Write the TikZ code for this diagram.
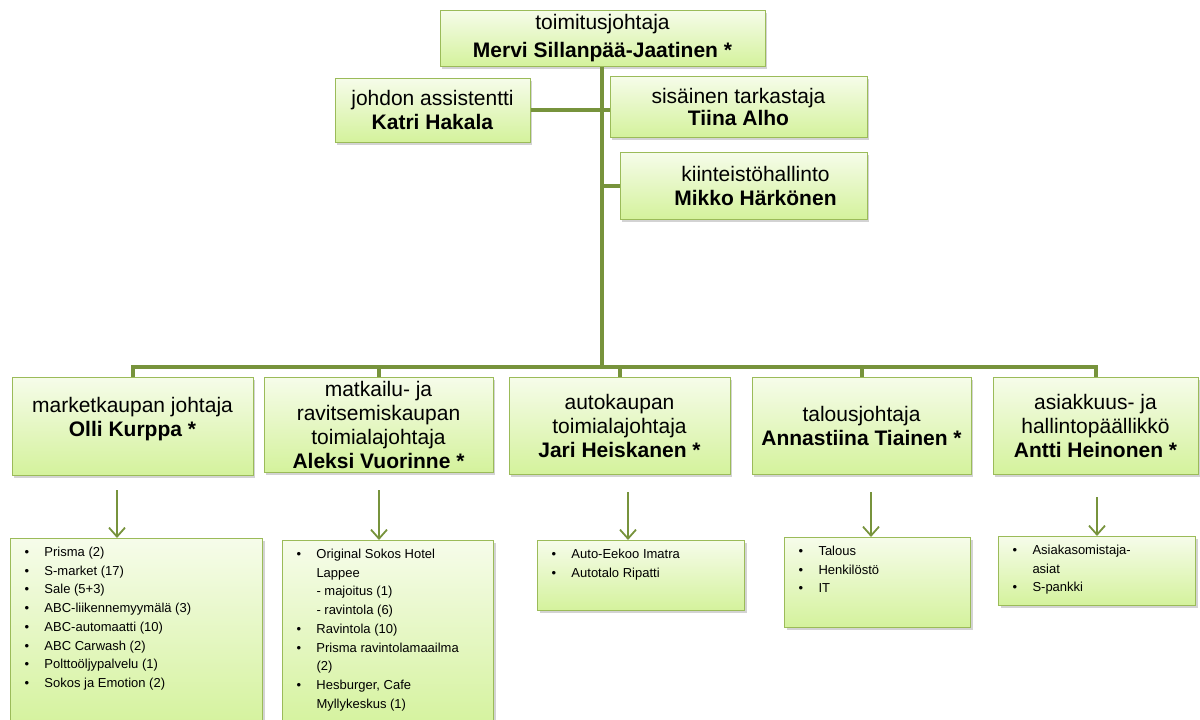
\documentclass[tikz,border=0pt]{standalone}
\usepackage{fontspec}
\setmainfont{Liberation Sans}
\usetikzlibrary{arrows.meta}
\usetikzlibrary{shadows}
\definecolor{reuna}{HTML}{9BBB59}
\definecolor{viiva}{HTML}{77933C}
\definecolor{ylavari}{HTML}{F6FCEA}
\definecolor{alavari}{HTML}{D4F29C}
\newcommand{\kohdat}[3]{\parbox[t][#2][t]{#1}{\fontsize{13}{18.7}\selectfont\begin{tabular}[t]{@{}p{20pt}@{}l@{}}#3\end{tabular}}}

\begin{document}
\begin{tikzpicture}[x=1pt,y=-1pt,
  johtaja/.style={draw=reuna, line width=1pt, top color=ylavari, bottom color=alavari,
    drop shadow={opacity=0.35, shadow xshift=2pt, shadow yshift=-2.5pt},
    align=center, inner sep=0pt, font=\fontsize{21}{24}\selectfont},
  lista/.style={johtaja, anchor=north west, align=left, inner xsep=14pt, inner ysep=5pt},
  yhteys/.style={viiva, line width=4pt},
  nuoli/.style={viiva, line width=1.8pt, -{Straight Barb[length=9pt, width=16pt, line width=1.8pt]}}]
\useasboundingbox (0,0) rectangle (1200,720);
% ylin johto
\node[johtaja, minimum width=325, minimum height=56, font=\fontsize{21}{28}\selectfont] (tj) at (602.5,38) {toimitusjohtaja\\\textbf{Mervi Sillanpää-Jaatinen *}};
\node[johtaja, minimum width=195, minimum height=64] (assistentti) at (432.5,110) {johdon assistentti\\\textbf{Katri Hakala}};
\node[johtaja, minimum width=257, minimum height=61, font=\fontsize{21}{22}\selectfont] (tarkastaja) at (738.5,106.5) {sisäinen tarkastaja\\\textbf{Tiina Alho}};
\node[johtaja, minimum width=247, minimum height=67] (kiinteisto) at (743.5,185.5) {\hspace*{24pt}kiinteistöhallinto\\\hspace*{24pt}\textbf{Mikko Härkönen}};
% toimialat
\node[johtaja, minimum width=241, minimum height=98] (market) at (132.5,426) {marketkaupan johtaja\\\textbf{Olli Kurppa *}\\[-6pt]};
\node[johtaja, minimum width=229, minimum height=95] (matkailu) at (378.5,424.5) {matkailu- ja\\ravitsemiskaupan\\toimialajohtaja\\\textbf{Aleksi Vuorinne *}};
\node[johtaja, minimum width=221, minimum height=97] (auto) at (619.5,425.5) {autokaupan\\toimialajohtaja\\\textbf{Jari Heiskanen *}};
\node[johtaja, minimum width=219, minimum height=97] (talous) at (861.5,425.5) {talousjohtaja\\\textbf{Annastiina Tiainen *}};
\node[johtaja, minimum width=205, minimum height=97] (asiakkuus) at (1095.5,425.5) {asiakkuus- ja\\hallintopäällikkö\\\textbf{Antti Heinonen *}};
% yksiköt
\node[lista] (markety) at (10,538) {\kohdat{224pt}{180pt}{
  \textbullet & Prisma (2)\\
  \textbullet & S-market (17)\\
  \textbullet & Sale (5+3)\\
  \textbullet & ABC-liikennemyymälä (3)\\
  \textbullet & ABC-automaatti (10)\\
  \textbullet & ABC Carwash (2)\\
  \textbullet & Polttoöljypalvelu (1)\\
  \textbullet & Sokos ja Emotion (2)}};
\node[lista] (matkailuy) at (282,540) {\kohdat{183pt}{180pt}{
  \textbullet & Original Sokos Hotel\\
  & Lappee\\
  & - majoitus (1)\\
  & - ravintola (6)\\
  \textbullet & Ravintola (10)\\
  \textbullet & Prisma ravintolamaailma\\
  & (2)\\
  \textbullet & Hesburger, Cafe\\
  & Myllykeskus (1)}};
\node[lista] (autoy) at (537,540) {\kohdat{179pt}{60pt}{
  \textbullet & Auto-Eekoo Imatra\\
  \textbullet & Autotalo Ripatti}};
\node[lista] (talousy) at (784,537) {\kohdat{158pt}{80pt}{
  \textbullet & Talous\\
  \textbullet & Henkilöstö\\
  \textbullet & IT}};
\node[lista] (asiakkuusy) at (998,536) {\kohdat{169pt}{59pt}{
  \textbullet & Asiakasomistaja-\\
  & asiat\\
  \textbullet & S-pankki}};
% yhteydet
\coordinate (runko) at (602,367);
\draw[yhteys] (tj.south -| runko) -- (runko);
\draw[yhteys] (assistentti.east) -- (assistentti.east -| tarkastaja.west);
\draw[yhteys] (kiinteisto.west) -- (kiinteisto.west -| runko);
\draw[yhteys, line cap=rect] (market.north |- runko) -- (asiakkuus.north |- runko);
\draw[yhteys] (market.north |- runko) -- (market.north);
\draw[yhteys] (matkailu.north |- runko) -- (matkailu.north);
\draw[yhteys] (auto.north |- runko) -- (auto.north);
\draw[yhteys] (talous.north |- runko) -- (talous.north);
\draw[yhteys] (asiakkuus.north |- runko) -- (asiakkuus.north);
% nuolet
\coordinate (n1) at (117,490);
\coordinate (n2) at (379,490);
\coordinate (n3) at (628,492);
\coordinate (n4) at (871,492);
\coordinate (n5) at (1097,497);
\draw[nuoli] (n1) -- (n1 |- markety.north);
\draw[nuoli] (n2) -- (n2 |- matkailuy.north);
\draw[nuoli] (n3) -- (n3 |- autoy.north);
\draw[nuoli] (n4) -- (n4 |- talousy.north);
\draw[nuoli] (n5) -- (n5 |- asiakkuusy.north);
\end{tikzpicture}
\end{document}
